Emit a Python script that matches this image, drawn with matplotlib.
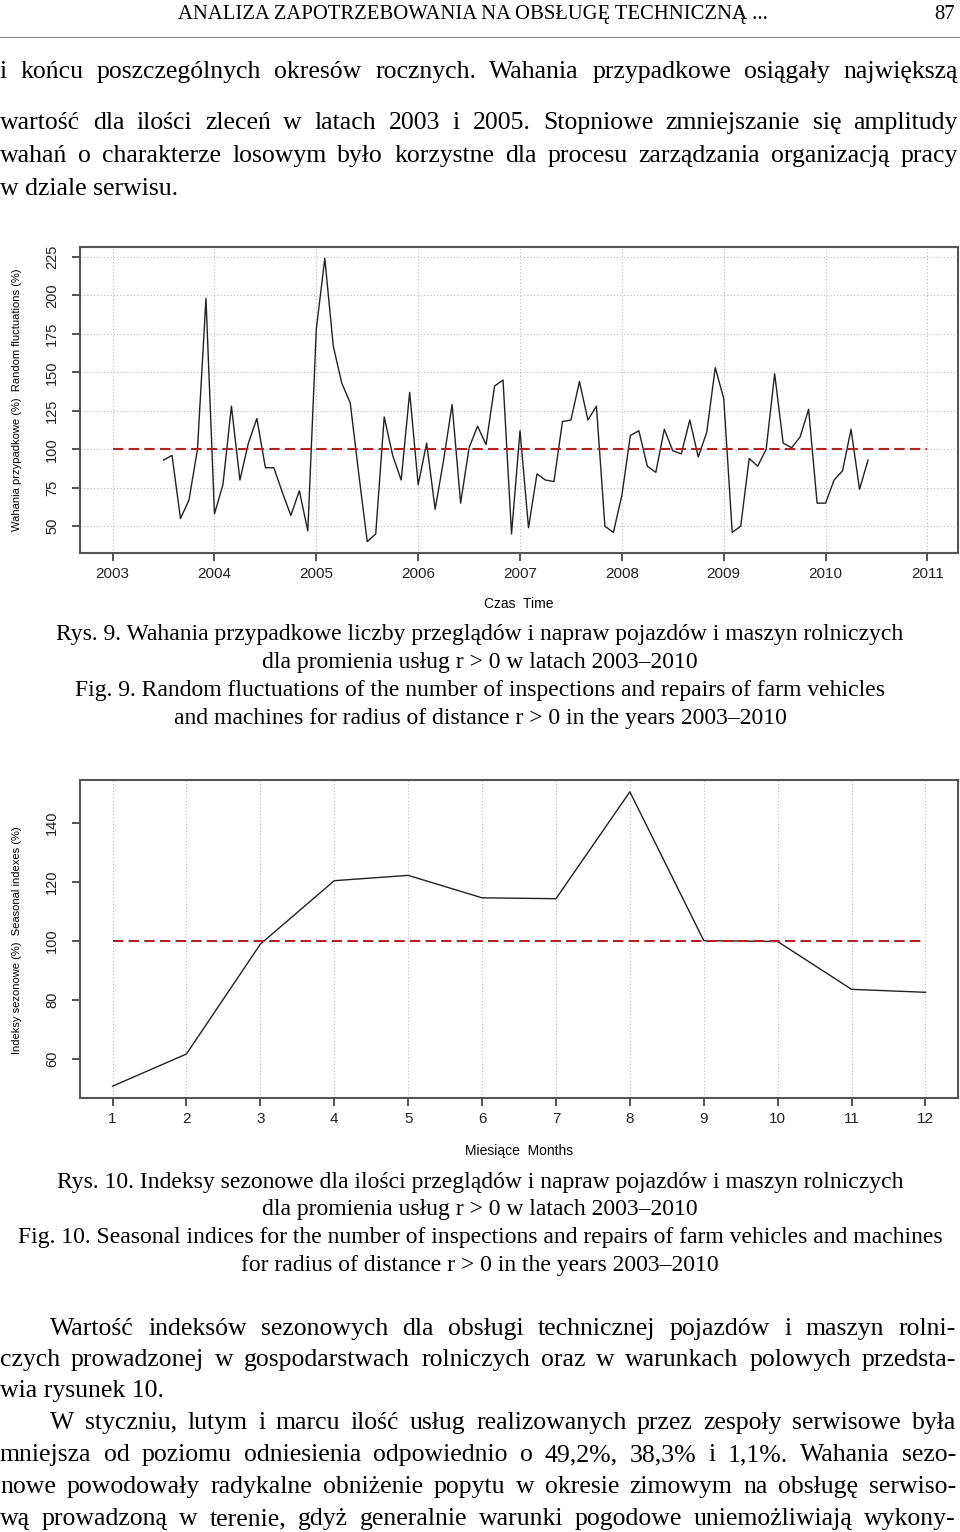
import numpy as np
import matplotlib
matplotlib.use("Agg")
import matplotlib.pyplot as plt

# page is 960 x 1532 px, everything below is placed in pixel units
W, H = 960, 1532

# Fig. 9 - random component (%), monthly, Jul 2003 - Jun 2010
start_year = 2003.5
random_fluct = [93, 96, 55, 67, 100, 198, 58, 77, 128, 80, 104, 120,
                88, 88, 72, 57, 73, 47, 178, 224, 167, 143, 130, 84,
                40, 45, 121, 96, 80, 137, 77, 104, 61, 93, 129, 65,
                101, 115, 103, 141, 145, 45, 112, 49, 84, 80, 79, 118,
                119, 144, 119, 128, 50, 46, 70, 109, 112, 89, 85, 113,
                99, 97, 119, 95, 111, 153, 133, 46, 50, 94, 89, 100,
                149, 104, 101, 108, 126, 65, 65, 80, 86, 113, 74, 93]
years = list(range(2003, 2012))
y_ticks1 = [50, 75, 100, 125, 150, 175, 200, 225]

# Fig. 10 - seasonal indices (%)
months = list(range(1, 13))
seasonal = [50.8, 61.7, 98.9, 120.4, 122.2, 114.6, 114.3, 150.5,
            100.1, 99.8, 83.6, 82.6]
y_ticks2 = [60, 80, 100, 120, 140]

SERIF = "Liberation Serif"
SANS = "Liberation Sans"
DASH = (0, (5, 2.5))

fig = plt.figure(figsize=(W / 100, H / 100), dpi=100)
renderer = fig.canvas.get_renderer()


def fx(x):
    return x / W


def fy(y):
    return 1 - y / H


def put(s, x, y, size, ha="left", family=SERIF):
    # y is the visual middle of the line, converted to a baseline
    base = y + 0.33 * size * 100 / 72
    return fig.text(fx(x), fy(base), s, fontsize=size, ha=ha, va="baseline",
                    family=family)


def justify(s, y, x0, x1, size):
    # spread the words of one line between x0 and x1
    words = s.split(" ")
    texts = [put(w, 0, y, size) for w in words]
    widths = [t.get_window_extent(renderer).width for t in texts]
    gap = (x1 - x0 - sum(widths)) / max(len(words) - 1, 1)
    x = x0
    for t, w in zip(texts, widths):
        t.set_x(fx(x))
        x += w + gap


# header
put("ANALIZA ZAPOTRZEBOWANIA NA OBSŁUGĘ TECHNICZNĄ ...", 178, 12, 14.9)
put("87", 955, 12, 14.9, ha="right")
fig.add_artist(plt.Line2D([0, 1], [fy(37), fy(37)], color="#888888", lw=0.8))

body = 18.5
cap = 17
justify("i końcu poszczególnych okresów rocznych. Wahania przypadkowe osiągały największą",
        70, 0, 958, body)
justify("wartość dla ilości zleceń w latach 2003 i 2005. Stopniowe zmniejszanie się amplitudy",
        121, 0, 958, body)
justify("wahań o charakterze losowym było korzystne dla procesu zarządzania organizacją pracy",
        154, 0, 958, body)
put("w dziale serwisu.", 0, 187, body)


def style_axes(ax):
    for sp in ax.spines.values():
        sp.set_color("#555555")
        sp.set_linewidth(1.5)
    ax.tick_params(direction="out", length=6, width=1.3, color="#444444",
                   labelsize=11, labelcolor="#222222")
    ax.tick_params(axis="x", pad=4)
    ax.tick_params(axis="y", pad=9, labelsize=10.5)
    for lab in ax.get_xticklabels() + ax.get_yticklabels():
        lab.set_family(SANS)
    for lab in ax.get_yticklabels():
        lab.set_rotation(90)
        lab.set_va("center")


# ---- Fig. 9 chart ----
ax1 = fig.add_axes([fx(80), fy(553), (958 - 80) / W, (553 - 247) / H])
t = start_year + np.arange(len(random_fluct)) / 12
ax1.plot(t, random_fluct, color="#222222", lw=1.0)
ax1.hlines(100, years[0], years[-1], color="#b22222", lw=1.5, linestyles=DASH)
ax1.set_xlim(2002.68, 2011.3)
ax1.set_ylim(32.6, 231.4)
ax1.set_xticks(years)
ax1.set_yticks(y_ticks1)
ax1.grid(True, color="#bbbbbb", ls=(0, (1, 2)), lw=0.8)
style_axes(ax1)
ax1.set_xlabel("Czas  Time", family=SANS, fontsize=10)
ax1.xaxis.set_label_coords(0.5, -(597 - 553) / 306)
ax1.set_ylabel("Wahania przypadkowe (%)  Random fluctuations (%)",
               family=SANS, fontsize=8, va="center")
ax1.yaxis.set_label_coords(-(80 - 17) / 878, (553 - 400) / 306)

for s, y in [("Rys. 9. Wahania przypadkowe liczby przeglądów i napraw pojazdów i maszyn rolniczych", 632),
             ("dla promienia usług r > 0 w latach 2003–2010", 660),
             ("Fig. 9. Random fluctuations of the number of inspections and repairs of farm vehicles", 688),
             ("and machines for radius of distance r > 0 in the years 2003–2010", 716)]:
    put(s, 480, y, cap, ha="center")

# ---- Fig. 10 chart ----
ax2 = fig.add_axes([fx(80), fy(1098), (958 - 80) / W, (1098 - 780) / H])
ax2.plot(months, seasonal, color="#222222", lw=1.0)
ax2.hlines(100, months[0], months[-1], color="#b22222", lw=1.5, linestyles=DASH)
ax2.set_xlim(0.56, 12.44)
ax2.set_ylim(46.8, 154.5)
ax2.set_xticks(months)
ax2.set_yticks(y_ticks2)
ax2.grid(True, axis="x", color="#bbbbbb", ls=(0, (1, 2)), lw=0.8)
style_axes(ax2)
ax2.set_xlabel("Miesiące  Months", family=SANS, fontsize=10)
ax2.xaxis.set_label_coords(0.5, -(1144 - 1098) / 318)
ax2.set_ylabel("Indeksy sezonowe (%)  Seasonal indexes (%)",
               family=SANS, fontsize=8, va="center")
ax2.yaxis.set_label_coords(-(80 - 17) / 878, (1098 - 940) / 318)

for s, y in [("Rys. 10. Indeksy sezonowe dla ilości przeglądów i napraw pojazdów i maszyn rolniczych", 1180),
             ("dla promienia usług r > 0 w latach 2003–2010", 1207),
             ("Fig. 10. Seasonal indices for the number of inspections and repairs of farm vehicles and machines", 1235),
             ("for radius of distance r > 0 in the years 2003–2010", 1263)]:
    put(s, 480, y, cap, ha="center")

# bottom paragraphs
justify("Wartość indeksów sezonowych dla obsługi technicznej pojazdów i maszyn rolni-",
        1327, 50, 956, body)
justify("czych prowadzonej w gospodarstwach rolniczych oraz w warunkach polowych przedsta-",
        1358, 0, 956, body)
put("wia rysunek 10.", 0, 1389, body)
justify("W styczniu, lutym i marcu ilość usług realizowanych przez zespoły serwisowe była",
        1421, 50, 956, body)
justify("mniejsza od poziomu odniesienia odpowiednio o 49,2%, 38,3% i 1,1%. Wahania sezo-",
        1453, 0, 956, body)
justify("nowe powodowały radykalne obniżenie popytu w okresie zimowym na obsługę serwiso-",
        1485, 0, 956, body)
justify("wą prowadzoną w terenie, gdyż generalnie warunki pogodowe uniemożliwiają wykony-",
        1517, 0, 956, body)

fig.savefig("out.png", dpi=100)
